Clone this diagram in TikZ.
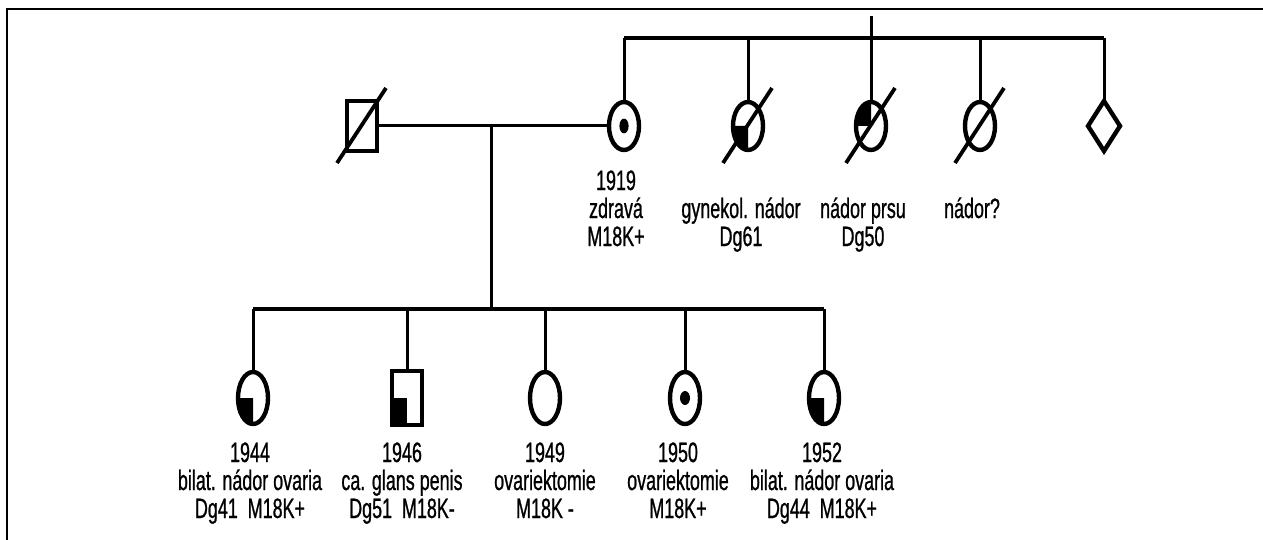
\documentclass[tikz,border=0pt]{standalone}
\usepackage{fontspec}
\setmainfont{Liberation Sans}[FakeStretch=0.64, FakeBold=0.8]
\usetikzlibrary{shapes.geometric}

\tikzset{
  conn/.style={line width=1.5pt},
  sibline/.style={line width=2.2pt},
  female/.style={draw, ellipse, line width=2.2pt, minimum width=15pt, minimum height=24pt, inner sep=0pt, outer sep=0pt},
  male/.style={draw, rectangle, line width=2.2pt, minimum width=15pt, minimum height=25pt, inner sep=0pt, outer sep=0pt},
  unknown/.style={draw, diamond, line width=2.2pt, minimum width=16pt, minimum height=25pt, inner sep=0pt, outer sep=0pt},
  slash/.style={line width=1.9pt},
  lbl/.style={align=center, anchor=base, inner sep=0pt, font=\fontsize{14}{14}\selectfont},
}

\begin{document}
\begin{tikzpicture}[x=0.5pt, y=-0.5pt]
  \useasboundingbox (0,0) rectangle (1263,540);
  % ramecek
  \draw[line width=1pt] (7,540) -- (7,9) -- (1263,9);

  % generace I a II
  \node[male] (father) at (362,126) {};
  \node[female] (mother) at (624,126) {};
  \node[female] (g2) at (748,126) {};
  \node[female] (g3) at (871,126) {};
  \node[female] (g4) at (980,126) {};
  \node[unknown] (g5) at (1104,126) {};
  \coordinate (top) at (871,16);
  \coordinate (gsib) at (871,38);

  % rodice matky
  \draw[conn] (top) -- (g3);
  \draw[conn] (mother) -- (mother |- gsib);
  \draw[sibline] (mother |- gsib) -- (g5 |- gsib);
  \draw[conn] (g5) -- (g5 |- gsib);
  \draw[conn] (g2) -- (g2 |- gsib);
  \draw[conn] (g4) -- (g4 |- gsib);

  % manzelstvi
  \coordinate (marr) at (491,126);
  \coordinate (sib) at (491,309);
  \draw[conn] (father) -- (mother);
  \draw[conn] (marr) -- (sib);

  % deti
  \node[female, minimum height=26pt] (c1) at (253,398) {};
  \node[male, minimum height=27pt] (c2) at (407,398) {};
  \node[female, minimum height=26pt] (c3) at (545,398) {};
  \node[female, minimum height=26pt] (c4) at (685,398) {};
  \node[female, minimum height=26pt] (c5) at (824,398) {};
  \draw[sibline] (c1 |- sib) -- (c5 |- sib);
  \foreach \c in {c1,c2,c3,c4,c5}
    \draw[conn] (\c) -- (\c |- sib);

  % vyplne
  \fill (mother.center) ellipse [x radius=2.3pt, y radius=3.7pt];
  \fill (c4.center) ellipse [x radius=2.5pt, y radius=3.5pt];
  \fill (g2.center) -- (g2.west) arc[start angle=180, end angle=270, x radius=7.5pt, y radius=12pt] -- cycle;
  \fill (g3.center) -- (g3.west) arc[start angle=180, end angle=90, x radius=7.5pt, y radius=12pt] -- cycle;
  \fill (c1.center) -- (c1.west) arc[start angle=180, end angle=270, x radius=7.5pt, y radius=13pt] -- cycle;
  \fill (c5.center) -- (c5.west) arc[start angle=180, end angle=270, x radius=7.5pt, y radius=13pt] -- cycle;
  \fill (c2.center) rectangle (c2.south west);

  % zemreli
  \foreach \p in {father,g2,g3,g4}
    \draw[slash] (\p.center) ++(-12.5pt,-18.5pt) -- ++(24.5pt,37.5pt);

  % popisky
  \node[lbl] (t1) at (616,246) {1919\\zdravá\\M18K+};
  \node[lbl] (t2) at (741,246) {gynekol. nádor\\Dg61};
  \node[lbl] (t3) at (863,246) {nádor prsu\\Dg50};
  \node[lbl] (t4) at (972,218) {nádor?};
  \node[lbl] (t5) at (250,518) {1944\\bilat. nádor ovaria\\Dg41\ \ M18K+};
  \node[lbl] (t6) at (402,518) {1946\\ca. glans penis\\Dg51\ \ M18K-};
  \node[lbl] (t7) at (545,518) {1949\\ovariektomie\\M18K -};
  \node[lbl] (t8) at (678,518) {1950\\ovariektomie\\M18K+};
  \node[lbl] (t9) at (822,518) {1952\\bilat. nádor ovaria\\Dg44\ \ M18K+};
\end{tikzpicture}
\end{document}
